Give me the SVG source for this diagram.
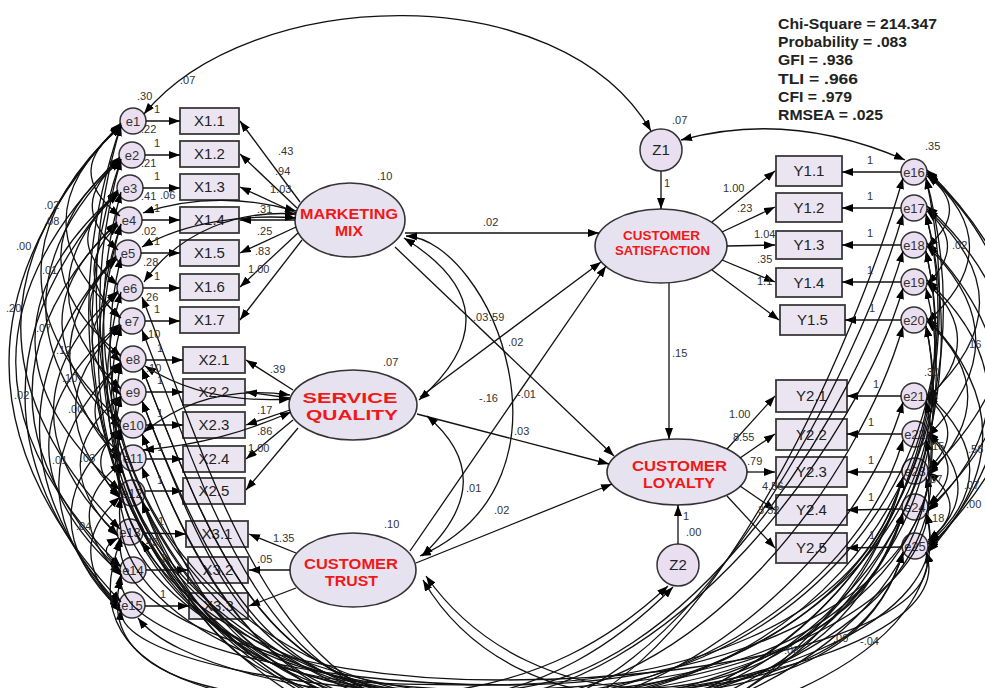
<svg xmlns="http://www.w3.org/2000/svg" width="985" height="688" viewBox="0 0 985 688">
<style>
.ec{fill:#e9dff0;stroke:#333;stroke-width:1.5}
.bx{fill:#ebe5f2;stroke:#3a3a3a;stroke-width:1.8}
.lv{fill:#e7e2f0;stroke:#333;stroke-width:1.6}
.ln{fill:none;stroke:#111;stroke-width:1.3}
.a{marker-end:url(#ah)}
.b{marker-start:url(#ah);marker-end:url(#ah)}
.et{font-family:"Liberation Sans",Arial,sans-serif;font-size:13px;fill:#333;text-anchor:middle}
.bt{font-family:"Liberation Sans",Arial,sans-serif;font-size:15px;fill:#222;text-anchor:middle}
.lt{font-family:"Liberation Sans",Arial,sans-serif;font-weight:bold;fill:#f01818;text-anchor:middle}
.lb{font-family:"Liberation Sans",Arial,sans-serif;font-size:11px;fill:#333}
.fs{font-family:"Liberation Sans",Arial,sans-serif;font-weight:bold;font-size:15px;fill:#222}
</style>
<defs>
<marker id="ah" viewBox="0 0 11 8" refX="11" refY="4" markerWidth="11" markerHeight="8" markerUnits="userSpaceOnUse" orient="auto-start-reverse"><path d="M0,0 L11,4 L0,8 z" fill="#000"/></marker>
</defs>
<rect width="985" height="688" fill="#fff"/>

<g id="fit">
<text class="fs" x="778" y="29" textLength="159" lengthAdjust="spacingAndGlyphs">Chi-Square = 214.347</text>
<text class="fs" x="778" y="47" textLength="129" lengthAdjust="spacingAndGlyphs">Probability = .083</text>
<text class="fs" x="778" y="65" textLength="75" lengthAdjust="spacingAndGlyphs">GFI = .936</text>
<text class="fs" x="778" y="84" textLength="80" lengthAdjust="spacingAndGlyphs">TLI = .966</text>
<text class="fs" x="778" y="102" textLength="74" lengthAdjust="spacingAndGlyphs">CFI = .979</text>
<text class="fs" x="778" y="120" textLength="105" lengthAdjust="spacingAndGlyphs">RMSEA = .025</text>
</g>

<g id="e1"><circle class="ec" cx="133" cy="121" r="13"/><text class="et" x="133" y="126">e1</text></g>
<g id="e2"><circle class="ec" cx="132" cy="155" r="13"/><text class="et" x="132" y="160">e2</text></g>
<g id="e3"><circle class="ec" cx="130" cy="188" r="13"/><text class="et" x="130" y="193">e3</text></g>
<g id="e4"><circle class="ec" cx="129" cy="220" r="13"/><text class="et" x="129" y="225">e4</text></g>
<g id="e5"><circle class="ec" cx="128" cy="253" r="13"/><text class="et" x="128" y="258">e5</text></g>
<g id="e6"><circle class="ec" cx="130" cy="288" r="13"/><text class="et" x="130" y="293">e6</text></g>
<g id="e7"><circle class="ec" cx="132" cy="321" r="13"/><text class="et" x="132" y="326">e7</text></g>
<g id="e8"><circle class="ec" cx="133" cy="359" r="13"/><text class="et" x="133" y="364">e8</text></g>
<g id="e9"><circle class="ec" cx="133" cy="392" r="13"/><text class="et" x="133" y="397">e9</text></g>
<g id="e10"><circle class="ec" cx="133" cy="425" r="13"/><text class="et" x="133" y="430">e10</text></g>
<g id="e11"><circle class="ec" cx="133" cy="458" r="13"/><text class="et" x="133" y="463">e11</text></g>
<g id="e12"><circle class="ec" cx="132" cy="493" r="13"/><text class="et" x="132" y="498">e12</text></g>
<g id="e13"><circle class="ec" cx="130" cy="532" r="13"/><text class="et" x="130" y="537">e13</text></g>
<g id="e14"><circle class="ec" cx="133" cy="570" r="13"/><text class="et" x="133" y="575">e14</text></g>
<g id="e15"><circle class="ec" cx="132" cy="605" r="13"/><text class="et" x="132" y="610">e15</text></g>

<g id="X1.1"><rect class="bx" x="180" y="108" width="59" height="26"/><text class="bt" x="209.5" y="126">X1.1</text></g>
<g id="X1.2"><rect class="bx" x="180" y="141" width="59" height="26"/><text class="bt" x="209.5" y="159">X1.2</text></g>
<g id="X1.3"><rect class="bx" x="180" y="174" width="59" height="26"/><text class="bt" x="209.5" y="192">X1.3</text></g>
<g id="X1.4"><rect class="bx" x="180" y="207" width="59" height="26"/><text class="bt" x="209.5" y="225">X1.4</text></g>
<g id="X1.5"><rect class="bx" x="180" y="240" width="59" height="26"/><text class="bt" x="209.5" y="258">X1.5</text></g>
<g id="X1.6"><rect class="bx" x="180" y="274" width="59" height="26"/><text class="bt" x="209.5" y="292">X1.6</text></g>
<g id="X1.7"><rect class="bx" x="180" y="307" width="59" height="26"/><text class="bt" x="209.5" y="325">X1.7</text></g>
<g id="X2.1"><rect class="bx" x="183" y="347" width="62" height="26"/><text class="bt" x="214" y="365">X2.1</text></g>
<g id="X2.2"><rect class="bx" x="183" y="379" width="62" height="26"/><text class="bt" x="214" y="397">X2.2</text></g>
<g id="X2.3"><rect class="bx" x="183" y="412" width="62" height="26"/><text class="bt" x="214" y="430">X2.3</text></g>
<g id="X2.4"><rect class="bx" x="183" y="446" width="62" height="26"/><text class="bt" x="214" y="464">X2.4</text></g>
<g id="X2.5"><rect class="bx" x="183" y="478" width="62" height="26"/><text class="bt" x="214" y="496">X2.5</text></g>
<g id="X3.1"><rect class="bx" x="186" y="521" width="62" height="26"/><text class="bt" x="217" y="539">X3.1</text></g>
<g id="X3.2"><rect class="bx" x="188" y="557" width="60" height="26"/><text class="bt" x="218" y="575">X3.2</text></g>
<g id="X3.3"><rect class="bx" x="189" y="593" width="59" height="26"/><text class="bt" x="218.5" y="611">X3.3</text></g>

<g id="MM"><ellipse class="lv" cx="350" cy="220" rx="55" ry="37"/><text class="lt" x="349" y="219" font-size="14" textLength="98" lengthAdjust="spacingAndGlyphs">MARKETING</text><text class="lt" x="349" y="236" font-size="14" textLength="28" lengthAdjust="spacingAndGlyphs">MIX</text></g>
<g id="SQ"><ellipse class="lv" cx="353" cy="405" rx="64" ry="35"/><text class="lt" x="350" y="403" font-size="15" textLength="95" lengthAdjust="spacingAndGlyphs">SERVICE</text><text class="lt" x="352" y="420" font-size="15" textLength="92" lengthAdjust="spacingAndGlyphs">QUALITY</text></g>
<g id="CT"><ellipse class="lv" cx="353" cy="570" rx="63" ry="37"/><text class="lt" x="351" y="569" font-size="14" textLength="94" lengthAdjust="spacingAndGlyphs">CUSTOMER</text><text class="lt" x="351.5" y="586" font-size="14" textLength="53" lengthAdjust="spacingAndGlyphs">TRUST</text></g>
<g id="CS"><ellipse class="lv" cx="661" cy="246" rx="66" ry="37"/><text class="lt" x="661.5" y="240" font-size="12" textLength="77" lengthAdjust="spacingAndGlyphs">CUSTOMER</text><text class="lt" x="662.5" y="255" font-size="12" textLength="95" lengthAdjust="spacingAndGlyphs">SATISFACTION</text></g>
<g id="CL"><ellipse class="lv" cx="677" cy="472" rx="70" ry="33"/><text class="lt" x="679.5" y="471" font-size="14" textLength="95" lengthAdjust="spacingAndGlyphs">CUSTOMER</text><text class="lt" x="679" y="488" font-size="14" textLength="72" lengthAdjust="spacingAndGlyphs">LOYALTY</text></g>
<g id="Z1"><circle class="ec" cx="661" cy="150" r="21"/><text class="bt" x="661" y="155">Z1</text></g>
<g id="Z2"><circle class="ec" cx="678" cy="565" r="21"/><text class="bt" x="678" y="570">Z2</text></g>

<g id="Y1.1"><rect class="bx" x="776" y="156" width="66" height="30"/><text class="bt" x="809" y="176">Y1.1</text></g>
<g id="Y1.2"><rect class="bx" x="776" y="193" width="66" height="29"/><text class="bt" x="809" y="213">Y1.2</text></g>
<g id="Y1.3"><rect class="bx" x="776" y="231" width="66" height="28"/><text class="bt" x="809" y="250">Y1.3</text></g>
<g id="Y1.4"><rect class="bx" x="776" y="268" width="66" height="29"/><text class="bt" x="809" y="288">Y1.4</text></g>
<g id="Y1.5"><rect class="bx" x="780" y="305" width="65" height="30"/><text class="bt" x="812.5" y="325">Y1.5</text></g>
<g id="Y2.1"><rect class="bx" x="776" y="380" width="71" height="32"/><text class="bt" x="811.5" y="401">Y2.1</text></g>
<g id="Y2.2"><rect class="bx" x="776" y="419" width="71" height="31"/><text class="bt" x="811.5" y="440">Y2.2</text></g>
<g id="Y2.3"><rect class="bx" x="776" y="457" width="71" height="30"/><text class="bt" x="811.5" y="477">Y2.3</text></g>
<g id="Y2.4"><rect class="bx" x="776" y="495" width="71" height="30"/><text class="bt" x="811.5" y="515">Y2.4</text></g>
<g id="Y2.5"><rect class="bx" x="776" y="533" width="71" height="30"/><text class="bt" x="811.5" y="553">Y2.5</text></g>

<g id="e16"><circle class="ec" cx="914" cy="172" r="13"/><text class="et" x="914" y="177">e16</text></g>
<g id="e17"><circle class="ec" cx="914" cy="208" r="13"/><text class="et" x="914" y="213">e17</text></g>
<g id="e18"><circle class="ec" cx="914" cy="245" r="13"/><text class="et" x="914" y="250">e18</text></g>
<g id="e19"><circle class="ec" cx="914" cy="282" r="13"/><text class="et" x="914" y="287">e19</text></g>
<g id="e20"><circle class="ec" cx="914" cy="320" r="13"/><text class="et" x="914" y="325">e20</text></g>
<g id="e21"><circle class="ec" cx="914" cy="396" r="13"/><text class="et" x="914" y="401">e21</text></g>
<g id="e22"><circle class="ec" cx="915" cy="434" r="13"/><text class="et" x="915" y="439">e22</text></g>
<g id="e23"><circle class="ec" cx="915" cy="471" r="13"/><text class="et" x="915" y="476">e23</text></g>
<g id="e24"><circle class="ec" cx="915" cy="507" r="13"/><text class="et" x="915" y="512">e24</text></g>
<g id="e25"><circle class="ec" cx="915" cy="546" r="13"/><text class="et" x="915" y="551">e25</text></g>

<g id="connectors" class="ln">
<path class="a" d="M146 121 L180 121"/><path class="a" d="M145 155 L180 155"/><path class="a" d="M143 188 L180 188"/>
<path class="a" d="M142 220 L180 220"/><path class="a" d="M141 253 L180 253"/><path class="a" d="M143 288 L180 288"/>
<path class="a" d="M145 321 L180 321"/><path class="a" d="M146 360 L183 360"/><path class="a" d="M146 392 L183 392"/>
<path class="a" d="M146 425 L183 425"/><path class="a" d="M146 459 L183 459"/><path class="a" d="M145 491 L183 491"/>
<path class="a" d="M143 533 L186 534"/><path class="a" d="M146 570 L188 570"/><path class="a" d="M145 606 L189 606"/>
<path class="a" d="M901 172 L842 172"/><path class="a" d="M901 208 L842 208"/><path class="a" d="M901 245 L842 245"/>
<path class="a" d="M901 282 L842 282"/><path class="a" d="M901 320 L845 320"/><path class="a" d="M901 396 L847 396"/>
<path class="a" d="M902 434 L847 434"/><path class="a" d="M902 472 L847 472"/><path class="a" d="M902 509 L847 510"/>
<path class="a" d="M902 547 L847 548"/>
<path class="a" d="M300 202 L240 121"/><path class="a" d="M297 208 L240 154"/><path class="a" d="M296 213 L240 187"/>
<path class="a" d="M295 220 L240 220"/><path class="a" d="M296 227 L240 253"/><path class="a" d="M298 233 L240 287"/>
<path class="a" d="M302 240 L240 320"/>
<path class="a" d="M293 390 L246 360"/><path class="a" d="M290 398 L246 392"/><path class="a" d="M290 410 L246 425"/>
<path class="a" d="M293 420 L246 459"/><path class="a" d="M298 428 L246 490"/>
<path class="a" d="M296 553 L249 534"/><path class="a" d="M290 570 L249 570"/><path class="a" d="M296 588 L249 606"/>
<path class="a" d="M712 222 L775 171"/><path class="a" d="M722 232 L775 207"/><path class="a" d="M727 246 L775 245"/>
<path class="a" d="M722 260 L775 282"/><path class="a" d="M712 270 L779 320"/>
<path class="a" d="M727 449 L775 396"/><path class="a" d="M740 458 L775 434"/><path class="a" d="M747 472 L775 472"/>
<path class="a" d="M740 486 L775 510"/><path class="a" d="M727 496 L775 548"/>
<path class="a" d="M405 233 L599 233"/>
<path class="a" d="M395 247 L614 456"/>
<path class="a" d="M420 397 L601 262"/>
<path class="a" d="M417 414 L609 464"/>
<path class="a" d="M410 551 L606 266"/>
<path class="a" d="M416 563 L612 484"/>
<path class="a" d="M669 283 L669 439"/>
<path class="a" d="M661 171 L661 209"/>
<path class="a" d="M678 544 L678 505"/>
<path class="b" d="M404 238 Q520 310 419 400"/>
<path class="b" d="M406 236 C490 240 590 480 420 556"/>
<path class="b" d="M427 416 Q502 480 422 556"/>
<path class="b" d="M144 114 C250 -15 560 -25 651 131"/>
<path class="b" d="M905 160 Q790 110 681 140"/>
<path class="b" d="M121 123 Q-103 363 121 602"/>
<path class="b" d="M121 124 Q-79 326 120 529"/>
<path class="b" d="M121 125 Q-39 273 121 422"/>
<path class="b" d="M121 126 Q11 221 121 318"/>
<path class="b" d="M122 127 Q61 170 120 216"/>
<path class="b" d="M120 157 Q-89 362 121 567"/>
<path class="b" d="M120 159 Q-29 306 121 455"/>
<path class="b" d="M120 160 Q1 257 121 356"/>
<path class="b" d="M121 161 Q65 204 118 250"/>
<path class="b" d="M118 190 Q-69 396 120 606"/>
<path class="b" d="M118 192 Q-49 340 120 490"/>
<path class="b" d="M118 193 Q17 290 121 389"/>
<path class="b" d="M119 194 Q57 238 118 285"/>
<path class="b" d="M117 222 Q-55 395 121 572"/>
<path class="b" d="M117 224 Q5 322 121 428"/>
<path class="b" d="M118 225 Q69 270 120 318"/>
<path class="b" d="M116 256 Q-39 429 120 608"/>
<path class="b" d="M116 258 Q21 355 121 461"/>
<path class="b" d="M117 259 Q61 306 121 362"/>
<path class="b" d="M118 291 Q-11 410 118 535"/>
<path class="b" d="M118 293 Q65 340 121 395"/>
<path class="b" d="M120 324 Q-23 445 121 574"/>
<path class="b" d="M120 326 Q31 407 120 496"/>
<path class="b" d="M121 362 Q-3 482 120 609"/>
<path class="b" d="M121 364 Q69 408 121 462"/>
<path class="b" d="M121 396 Q41 462 118 536"/>
<path class="b" d="M121 429 Q21 515 121 611"/>
<path class="b" d="M121 430 Q81 459 120 498"/>
<path class="b" d="M121 463 Q57 514 122 576"/>
<path class="b" d="M120 497 Q61 549 121 612"/>
<path class="b" d="M118 538 Q93 551 121 566"/>
<path class="b" d="M927 170 Q1118 359 928 548"/>
<path class="b" d="M927 172 Q1084 321 928 473"/>
<path class="b" d="M927 174 Q1012 246 927 322"/>
<path class="b" d="M927 176 Q972 208 927 247"/>
<path class="b" d="M927 206 Q1088 357 928 509"/>
<path class="b" d="M927 209 Q1032 302 927 398"/>
<path class="b" d="M927 211 Q968 245 927 284"/>
<path class="b" d="M927 243 Q1072 395 928 550"/>
<path class="b" d="M927 246 Q1024 339 928 436"/>
<path class="b" d="M927 280 Q1048 394 928 511"/>
<path class="b" d="M927 283 Q988 339 927 400"/>
<path class="b" d="M927 318 Q1038 433 928 552"/>
<path class="b" d="M927 321 Q1008 395 928 475"/>
<path class="b" d="M927 394 Q1012 471 928 544"/>
<path class="b" d="M927 397 Q968 433 928 469"/>
<path class="b" d="M928 432 Q988 490 928 542"/>
<path class="b" d="M928 435 Q968 470 928 505"/>
<path class="b" d="M928 472 Q972 508 928 540"/>
<path class="b" d="M121 125 C1 476 234 760 520 760 C783 760 996 499 926 178"/>
<path class="b" d="M121 125 C21 465 240 740 510 740 C767 740 976 555 926 326"/>
<path class="b" d="M121 159 C31 477 241 735 500 735 C768 735 986 518 926 251"/>
<path class="b" d="M121 192 C41 483 249 720 505 720 C759 720 966 595 926 440"/>
<path class="b" d="M121 224 C36 514 257 750 530 750 C790 750 1001 510 926 214"/>
<path class="b" d="M121 257 C61 502 255 700 495 700 C749 700 956 634 926 552"/>
<path class="b" d="M121 292 C51 534 259 730 515 730 C775 730 986 532 926 288"/>
<path class="b" d="M121 325 C66 535 260 705 500 705 C754 705 961 619 926 513"/>
<path class="b" d="M121 363 C81 555 273 710 510 710 C764 710 971 572 926 402"/>
<path class="b" d="M121 396 C76 578 284 725 540 725 C797 725 1006 480 926 178"/>
<path class="b" d="M121 429 C91 576 276 695 505 695 C754 695 956 597 926 477"/>
<path class="b" d="M121 462 C96 593 286 700 520 700 C769 700 971 532 926 326"/>
<path class="b" d="M121 497 C101 612 291 705 525 705 C777 705 981 502 926 251"/>
<path class="b" d="M121 536 C106 615 283 680 500 680 C746 680 946 623 926 552"/>
<path class="b" d="M121 574 C111 635 290 685 510 685 C756 685 956 575 926 440"/>
<path class="b" d="M121 609 C116 656 297 695 520 695 C780 695 991 480 926 214"/>
<path class="b" d="M121 159 C11 482 232 745 505 745 C757 745 961 641 926 513"/>
<path class="b" d="M121 224 C26 509 245 740 515 740 C764 740 966 589 926 402"/>
<path class="b" d="M142 368 C220 568 270 700 470 700 C670 700 860 438 903 288"/>
<path class="b" d="M142 401 C220 601 280 705 480 705 C680 705 860 590 903 440"/>
<path class="b" d="M142 434 C220 634 290 715 490 715 C690 715 860 364 903 214"/>
<path class="b" d="M142 467 C220 667 270 690 470 690 C670 690 860 663 903 513"/>
<path class="b" d="M142 502 C220 702 300 700 500 700 C700 700 860 476 903 326"/>
<path class="b" d="M142 330 C220 530 270 710 470 710 C670 710 860 627 903 477"/>
<path class="b" d="M142 401 C220 601 260 695 460 695 C660 695 860 702 903 552"/>
<path class="b" d="M142 297 C220 497 280 720 480 720 C680 720 860 552 903 402"/>
<path class="b" d="M142 434 C220 634 300 725 500 725 C700 725 860 328 903 178"/>
<path class="b" d="M142 541 C200 640 290 690 490 690 C690 690 860 401 903 251"/>
<path class="b" d="M142 502 C220 680 280 685 480 685 C680 685 860 627 903 477"/>
<path class="b" d="M142 368 C220 568 270 700 470 700 C670 700 860 702 903 552"/>
<path class="b" d="M138 618 C170 660 300 700 480 700 C680 700 860 663 903 513"/>
<path class="b" d="M423 580 C470 660 560 700 650 695 C780 688 860 630 903 513"/>
<path class="b" d="M426 576 C478 650 565 690 655 688 C790 680 870 600 903 477"/>
<path class="b" d="M668 586 C610 640 540 680 440 692 C260 712 90 690 121 578"/>
<path class="b" d="M673 587 C615 645 545 690 450 700 C270 720 60 690 121 540"/>
<path class="b" d="M144 282 C180 230 240 210 296 214"/>
<path class="b" d="M142 247 C185 222 245 214 296 218"/>
<path class="b" d="M143 213 C195 195 250 198 296 211"/>
<path class="b" d="M145 366 C190 395 240 402 290 399"/>
<path class="b" d="M144 432 C190 395 240 388 290 395"/>
<path class="b" d="M143 450 C200 445 245 432 291 412"/>
</g>

<g id="labels" class="lb">
<text x="180" y="84">.07</text><text x="137" y="100">.30</text><text x="672" y="124">.07</text><text x="925" y="150">.35</text>
<text x="377" y="180">.10</text><text x="383" y="366">.07</text><text x="384" y="528">.10</text>
<text x="278" y="155">.43</text><text x="275" y="175">.94</text><text x="270" y="193">1.03</text><text x="257" y="213">.31</text>
<text x="257" y="235">.25</text><text x="255" y="255">.83</text><text x="248" y="273">1.00</text>
<text x="270" y="373">.39</text><text x="257" y="414">.17</text><text x="257" y="435">.86</text><text x="248" y="452">1.00</text>
<text x="273" y="542">1.35</text><text x="257" y="563">.05</text>
<text x="723" y="192">1.00</text><text x="737" y="212">.23</text><text x="754" y="238">1.04</text><text x="757" y="263">.35</text><text x="757" y="285">1.1</text>
<text x="729" y="418">1.00</text><text x="733" y="441">8.55</text><text x="747" y="465">.79</text><text x="762" y="490">4.56</text><text x="758" y="514">3.52</text>
<text x="483" y="226">.02</text><text x="508" y="346">.02</text><text x="473" y="321">.03</text><text x="489" y="321">.59</text>
<text x="479" y="402">-.16</text><text x="517" y="398">-.01</text><text x="514" y="435">.03</text><text x="466" y="492">.01</text><text x="494" y="514">.02</text>
<text x="672" y="357">.15</text><text x="664" y="187">1</text><text x="683" y="520">1</text><text x="686" y="536">.00</text>
<text x="154" y="113">1</text><text x="154" y="147">1</text><text x="154" y="180">1</text><text x="154" y="212">1</text><text x="154" y="245">1</text>
<text x="154" y="280">1</text><text x="154" y="313">1</text><text x="157" y="352">1</text><text x="157" y="384">1</text><text x="157" y="417">1</text>
<text x="157" y="451">1</text><text x="157" y="484">1</text><text x="158" y="525">1</text><text x="160" y="562">1</text><text x="160" y="598">1</text>
<text x="867" y="164">1</text><text x="867" y="200">1</text><text x="867" y="237">1</text><text x="867" y="274">1</text><text x="869" y="312">1</text>
<text x="873" y="388">1</text><text x="868" y="426">1</text><text x="868" y="464">1</text><text x="868" y="501">1</text><text x="869" y="539">1</text>
<text x="141" y="133">.22</text><text x="141" y="167">.21</text><text x="141" y="200">.41</text><text x="160" y="199">.06</text><text x="141" y="235">.02</text>
<text x="143" y="266">.28</text><text x="143" y="301">.26</text><text x="145" y="338">.10</text><text x="146" y="372">.10</text><text x="143" y="546">.43</text>
<text x="16" y="250">.00</text><text x="44" y="209">.02</text><text x="44" y="225">.08</text><text x="42" y="274">.01</text><text x="6" y="312">.20</text>
<text x="36" y="332">.07</text><text x="56" y="354">.12</text><text x="62" y="382">.10</text><text x="14" y="399">.02</text><text x="68" y="413">.00</text>
<text x="52" y="464">.01</text><text x="80" y="462">.03</text><text x="76" y="530">.04</text>
<text x="952" y="249">.02</text><text x="966" y="348">.16</text><text x="924" y="376">.30</text><text x="929" y="450">.15</text><text x="968" y="453">.56</text>
<text x="927" y="483">.37</text><text x="964" y="489">.07</text><text x="966" y="508">.00</text><text x="929" y="522">.18</text>
<text x="784" y="654">.03</text><text x="833" y="642">.00</text><text x="860" y="645">-.04</text>
</g>
</svg>
